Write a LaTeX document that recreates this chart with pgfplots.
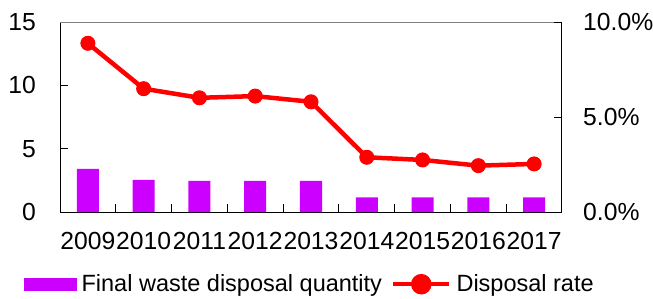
\documentclass[border=0pt]{standalone}
\usepackage{pgfplots}
\pgfplotsset{compat=1.18}
\usepackage{fontspec}
\setmainfont{Liberation Sans}
\definecolor{barcol}{RGB}{204,0,255}
\definecolor{linecol}{RGB}{255,0,0}
\newcommand{\cf}{\fontsize{24.7}{29}\selectfont}
\newcommand{\lf}{\fontsize{23.5}{28}\selectfont}
\begin{document}
\begin{tikzpicture}
\path[use as bounding box] (0,0) rectangle (653pt,298pt);
\begin{axis}[
  at={(60pt,86pt)}, anchor=south west,
  scale only axis, width=502pt, height=190pt,
  xmin=-0.5, xmax=8.5, ymin=0, ymax=15,
  axis y line*=left, axis x line*=bottom,
  axis line style={line width=1pt, black},
  tick style={line width=1pt, black},
  tick align=inside,
  xtick={0,...,8},
  xticklabels={2009,2010,2011,2012,2013,2014,2015,2016,2017},
  major x tick style={draw=none},
  minor xtick={0.5,1.5,...,7.5},
  minor tick length=8pt, major tick length=8pt,
  ytick={0,5,10,15},
  yticklabels={0,5,10,15},
  /pgf/number format/assume math mode=true,
  tick label style={font=\cf},
  yticklabel style={anchor=east, inner sep=0pt, xshift=-24pt},
  xticklabel style={anchor=north, inner sep=0pt, yshift=-20pt},
]
\addplot[ybar, bar width=22pt, fill=barcol, draw=none] coordinates {
 (0,3.4) (1,2.53) (2,2.45) (3,2.45) (4,2.45) (5,1.16) (6,1.15) (7,1.15) (8,1.15)};
\draw[line width=1pt, gray] (rel axis cs:0,1) -- (rel axis cs:1,1);
\end{axis}
\begin{axis}[
  at={(60pt,86pt)}, anchor=south west,
  scale only axis, width=502pt, height=190pt,
  xmin=-0.5, xmax=8.5, ymin=0, ymax=10,
  axis y line*=right, axis x line=none,
  axis line style={line width=1pt, black},
  tick style={line width=1pt, black},
  tick align=inside, major tick length=8pt,
  ytick={0,5,10},
  yticklabels={0.0\%,5.0\%,10.0\%},
  /pgf/number format/assume math mode=true,
  tick label style={font=\cf},
  yticklabel style={anchor=west, inner sep=0pt, xshift=21pt},
  legend columns=2,
  legend style={at={(-0.0717,-0.38)}, anchor=west, draw=none, fill=none,
    inner sep=0pt, font=\lf, nodes={inner sep=0pt},
    /tikz/every odd column/.append style={column sep=5pt},
    /tikz/every even column/.append style={column sep=9pt}},
]
\addlegendimage{legend image code/.code={\fill[barcol] (0pt,-6pt) rectangle (52pt,6pt);}}
\addlegendentry{Final waste disposal quantity}
\addplot[color=linecol, line width=4.5pt, mark=*, mark size=7pt,
  mark options={fill=linecol, draw=linecol, line width=1pt},
  legend image code/.code={\draw[linecol, line width=4.5pt] (0pt,0pt) -- (56pt,0pt);
    \fill[linecol] (28pt,0pt) circle (8pt);}]
 coordinates {(0,8.88) (1,6.49) (2,6.01) (3,6.10) (4,5.80) (5,2.88) (6,2.74) (7,2.44) (8,2.53)};
\addlegendentry{Disposal rate}
\end{axis}
\end{tikzpicture}
\end{document}
